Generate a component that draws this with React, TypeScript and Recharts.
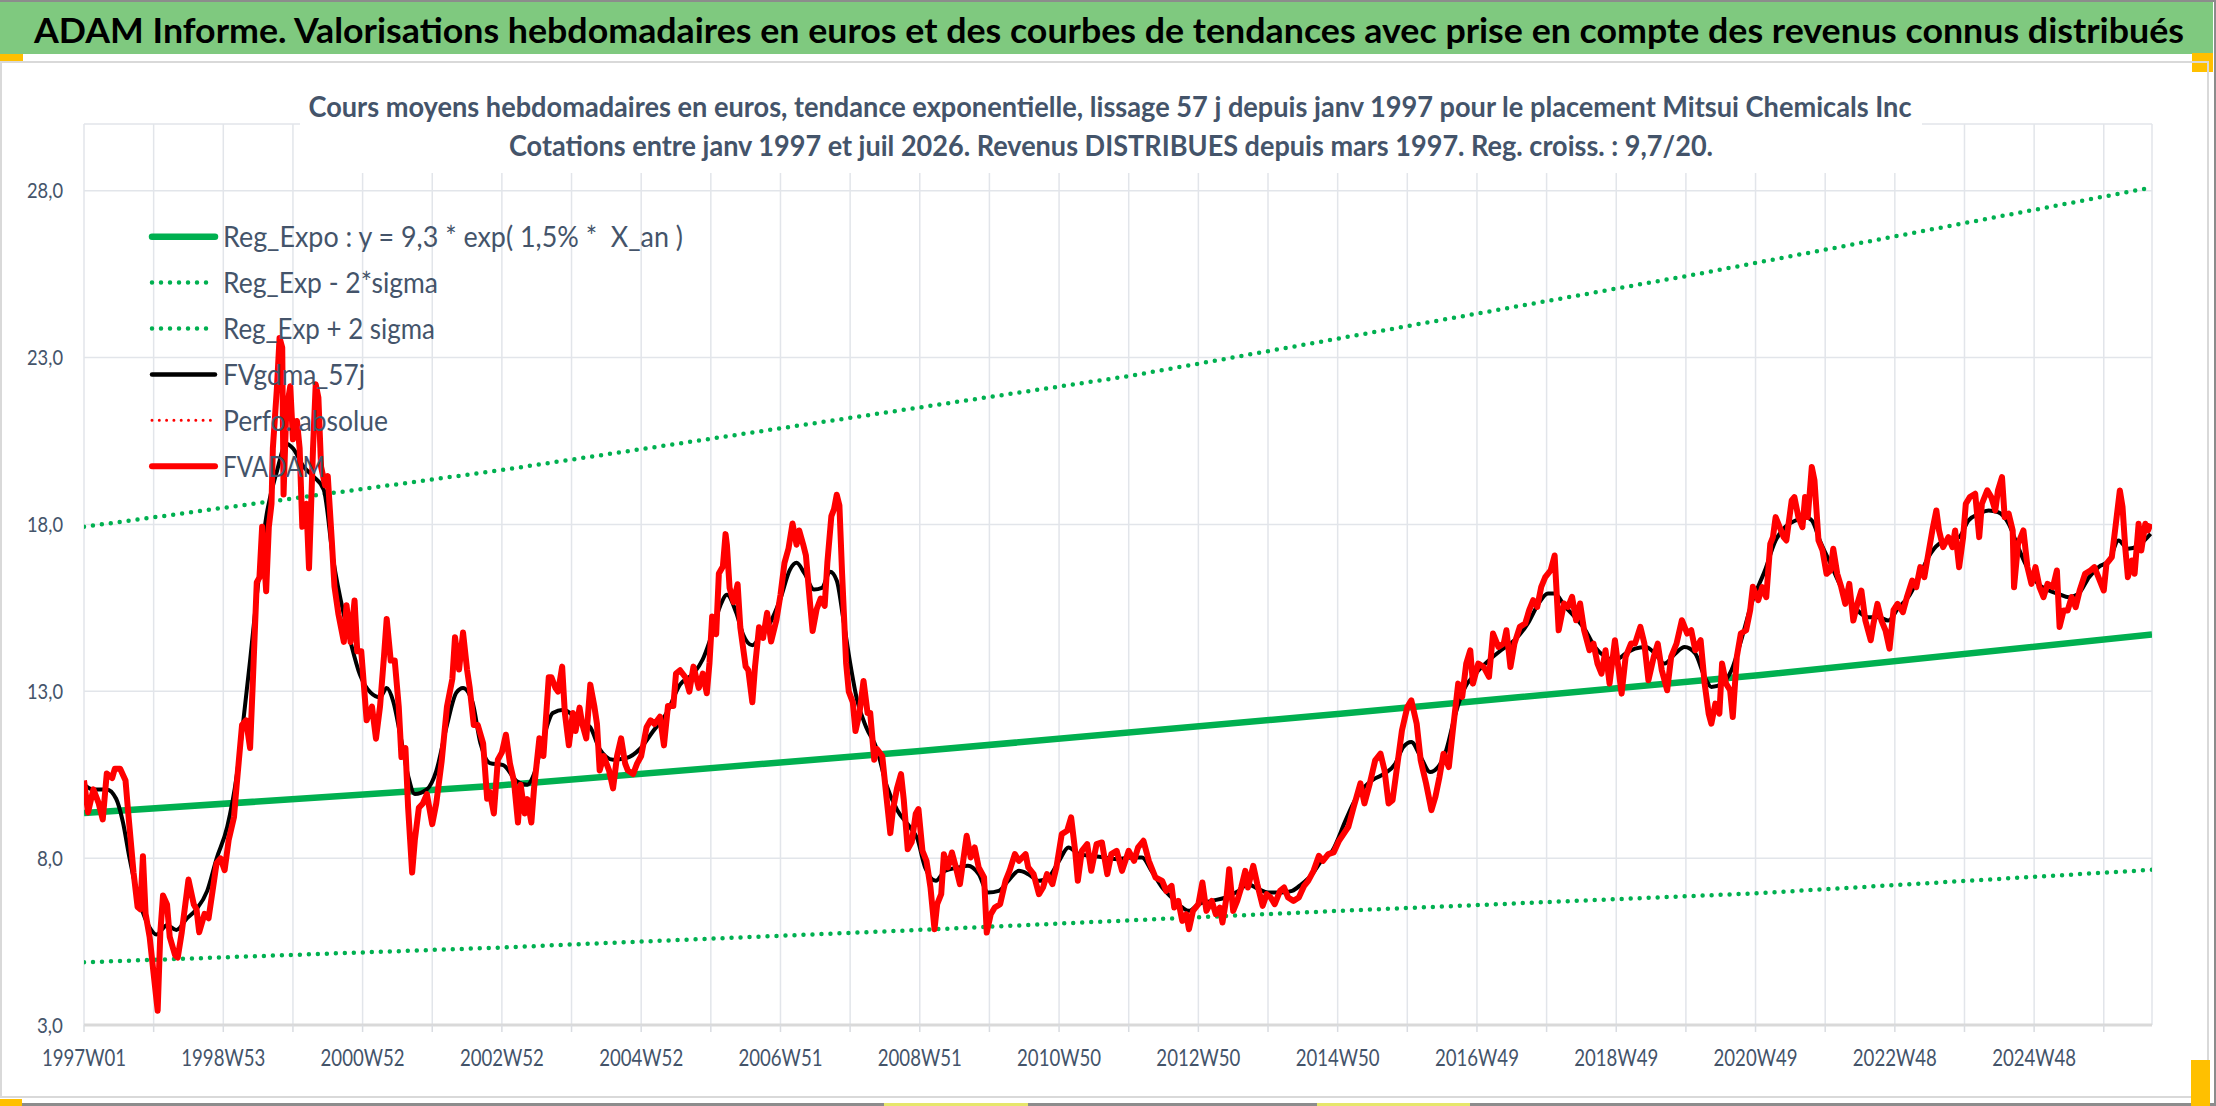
import React from "react";
import { LineChart, Line, XAxis, YAxis, CartesianGrid, Legend } from "recharts";

const W = 2216;
const H = 1106;
const FONT = "Lato, 'Open Sans', 'DejaVu Sans', sans-serif";
const TEXT_COLOR = "#44546A";

const titleText =
  "ADAM Informe. Valorisations hebdomadaires en euros et des courbes de tendances avec prise en compte des revenus connus distribués";
const subtitleLine1 =
  "Cours moyens hebdomadaires en euros, tendance exponentielle, lissage 57 j depuis janv 1997 pour le placement Mitsui Chemicals Inc";
const subtitleLine2 =
  "Cotations entre janv 1997 et juil 2026. Revenus DISTRIBUES depuis mars 1997. Reg. croiss. : 9,7/20.";

// x axis: week index since 1997W01
const xTickWeeks = [
  0, 52, 104, 156, 208, 260, 312, 364, 416, 468, 520, 572, 624, 676, 728, 780, 832, 884, 936, 988, 1040,
  1092, 1144, 1196, 1248, 1300, 1352, 1404, 1456, 1508,
];
const xTickLabels = [
  "1997W01", "1998W53", "2000W52", "2002W52", "2004W52", "2006W51", "2008W51", "2010W50",
  "2012W50", "2014W50", "2016W49", "2018W49", "2020W49", "2022W48", "2024W48",
];
const yTicks = [3, 8, 13, 18, 23, 28];
const yTickLabels = ["3,0", "8,0", "13,0", "18,0", "23,0", "28,0"];

// Reg_Expo and bands
const regWeek = [0, 310, 622, 938, 1250, 1544];
const regValue = [9.35, 10.18, 11.2, 12.33, 13.48, 14.7];
const lowWeek = [0, 310, 624, 937, 1250, 1544];
const lowValue = [4.88, 5.32, 5.85, 6.42, 6.95, 7.65];
const highWeek = [0, 310, 781, 1204, 1544];
const highValue = [17.93, 19.62, 22.45, 25.5, 28.1];

// FVgdma_57j (black)
const gdmaWeek = [
  0, 7, 17, 24, 29, 34, 42, 49, 54, 62, 69, 77, 84, 92, 99, 107, 114, 119, 124, 129, 136, 144, 151, 156, 164,
  171, 179, 186, 194, 199, 206, 214, 221, 226, 231, 236, 242, 247, 256, 263, 271, 278, 283, 290, 296, 303,
  313, 323, 331, 336, 343, 350, 358, 368, 378, 385, 395, 405, 415, 425, 435, 445, 455, 462, 467, 475, 480,
  487, 492, 499, 505, 512, 520, 527, 532, 538, 545, 551, 557, 562, 567, 572, 577, 584, 592, 599, 607, 617,
  622, 628, 636, 643, 653, 660, 668, 675, 683, 690, 698, 705, 713, 720, 728, 735, 743, 752, 762, 772, 782,
  790, 797, 805, 812, 820, 825, 832, 842, 852, 862, 869, 877, 884, 894, 902, 909, 917, 924, 932, 942, 949,
  956, 964, 971, 979, 985, 991, 998, 1005, 1011, 1017, 1024, 1030, 1039, 1049, 1058, 1068, 1078, 1086, 1093,
  1098, 1106, 1113, 1121, 1128, 1136, 1143, 1151, 1158, 1166, 1173, 1180, 1188, 1195, 1203, 1210, 1215, 1223,
  1230, 1238, 1245, 1255, 1263, 1270, 1278, 1285, 1290, 1296, 1304, 1312, 1322, 1332, 1340, 1347, 1355, 1362,
  1370, 1377, 1385, 1392, 1400, 1407, 1415, 1422, 1429, 1437, 1444, 1452, 1459, 1467, 1474, 1482, 1489, 1497,
  1504, 1512, 1519, 1526, 1534, 1543,
];
const gdmaValue = [
  10.2, 10.06, 10.06, 9.78, 9.09, 8.0, 6.61, 5.92, 5.71, 5.99, 5.85, 6.2, 6.47, 7.02, 7.99, 8.95, 10.47, 12.13,
  13.92, 15.86, 18.21, 19.59, 20.42, 20.28, 19.73, 19.45, 19.04, 16.96, 15.3, 14.48, 13.5, 12.96, 12.82, 13.1,
  12.68, 11.72, 10.47, 9.92, 10.06, 10.61, 11.99, 12.96, 13.1, 12.68, 11.44, 10.85, 10.79, 10.31, 10.2, 10.52,
  11.59, 12.35, 12.45, 12.18, 11.92, 11.27, 10.95, 11.0, 11.27, 11.81, 12.35, 13.2, 13.53, 13.96, 14.49, 15.56,
  15.89, 15.35, 14.71, 14.38, 14.65, 15.03, 15.78, 16.64, 16.85, 16.53, 16.05, 16.1, 16.58, 16.32, 15.14,
  13.85, 12.77, 11.92, 11.27, 10.2, 9.45, 8.91, 8.6, 7.72, 7.32, 7.62, 7.72, 7.77, 7.52, 6.97, 7.02, 7.32,
  7.62, 7.52, 7.32, 7.42, 7.92, 8.32, 8.12, 8.07, 8.02, 7.97, 8.02, 8.02, 7.62, 7.12, 6.82, 6.52, 6.42, 6.62,
  6.72, 6.82, 7.02, 7.22, 7.07, 6.97, 6.97, 7.02, 7.22, 7.52, 7.92, 8.22, 9.14, 9.74, 10.14, 10.39, 10.53,
  10.83, 11.33, 11.48, 11.03, 10.58, 10.73, 11.23, 12.33, 13.03, 13.53, 13.93, 14.23, 14.53, 15.03, 15.63,
  15.93, 15.93, 15.53, 15.23, 14.83, 14.33, 14.03, 13.93, 14.13, 14.28, 14.33, 14.13, 13.83, 14.13, 14.33,
  14.13, 13.43, 13.13, 13.23, 13.63, 14.63, 15.63, 16.62, 17.52, 17.92, 18.12, 18.22, 18.12, 17.52, 16.82,
  16.12, 15.52, 15.22, 15.22, 15.12, 15.52, 15.82, 16.42, 17.02, 17.42, 17.52, 17.62, 18.12, 18.32, 18.42,
  18.37, 18.02, 17.32, 16.62, 16.22, 16.02, 15.92, 15.82, 15.92, 16.42, 16.72, 16.92, 17.52, 17.27, 17.37,
  17.72,
];

// FVADAM (red)
const adamWeek = [
  0, 3, 7, 11, 14, 17, 21, 23, 27, 31, 33, 37, 40, 42, 44, 46, 49, 52, 55, 57, 59, 62, 64, 68, 70, 73, 78, 82,
  84, 86, 90, 93, 96, 99, 102, 105, 108, 112, 114, 118, 121, 124, 126, 129, 131, 133, 136, 138, 140, 141,
  144, 146, 148, 149, 151, 154, 156, 159, 161, 163, 166, 168, 171, 173, 175, 177, 180, 182, 185, 187, 190,
  194, 196, 199, 202, 204, 207, 211, 215, 218, 221, 224, 226, 229, 232, 235, 237, 240, 242, 245, 247, 250,
  253, 256, 260, 263, 267, 271, 275, 277, 280, 283, 286, 288, 291, 294, 298, 301,
  303, 306, 309, 312, 315, 318, 321, 324, 326, 329, 331, 334, 336, 338, 340, 343, 347, 349, 352, 354, 357,
  359, 362, 365, 367, 370, 372, 375, 378, 381, 383, 385, 388, 392, 395, 398, 401, 404, 406, 410, 413, 416,
  420, 423, 426, 430, 433, 436, 440, 442, 445, 449, 452, 455, 459, 462, 465, 467, 469, 472, 474, 477, 479,
  480, 482, 485, 488, 490, 494, 496, 499, 501, 504, 507, 510, 513, 517, 520, 523, 526, 529, 532, 534, 537,
  539, 542, 544, 547, 550, 553, 555, 558, 560, 562, 564, 566, 569, 571, 574, 576, 579, 582, 585, 587, 590,
  592, 596, 599, 602, 604, 607, 610, 612, 615, 618,
  621, 623, 626, 629, 632, 635, 637, 640, 642, 645, 648, 651, 654, 659, 662, 665, 668, 672, 674, 677, 680,
  684, 688, 691, 695, 698, 703, 705, 709, 713, 716, 719, 723, 726, 730, 734, 737, 740, 742, 745, 749, 752,
  756, 760, 764, 767, 771, 775, 780, 784, 787, 791, 795, 800, 805, 808, 812, 814, 817, 820, 823, 825, 828,
  832, 835, 838, 842, 845, 848, 850, 853, 855, 858, 861, 864, 867, 869, 873, 876, 880, 883, 886, 889, 893,
  896, 899, 903, 907, 911, 914, 918, 922, 925, 929, 933, 937,
  944, 948, 953, 956, 960, 964, 968, 971, 974, 977, 980, 984, 988, 991, 995, 998, 1002, 1006, 1009, 1012,
  1015, 1019, 1022, 1026, 1029, 1032, 1035, 1037, 1041, 1045, 1049, 1052, 1056, 1060, 1062, 1065, 1068, 1072,
  1076, 1079, 1082, 1085, 1088, 1091, 1095, 1098, 1101, 1105, 1108, 1111, 1114, 1117, 1120, 1124, 1127, 1130,
  1133, 1136, 1139, 1143, 1148, 1151, 1155, 1158, 1162, 1165, 1168, 1172, 1175, 1178, 1182, 1185, 1189, 1193,
  1197, 1200, 1203, 1207, 1210, 1213, 1215, 1218, 1221, 1223, 1226, 1229, 1231, 1234, 1237, 1241, 1244, 1246,
  1250,
  1253, 1256, 1259, 1261, 1263, 1266, 1269, 1271, 1275, 1277, 1280, 1283, 1285, 1287, 1290, 1292, 1295, 1298,
  1301, 1304, 1306, 1309, 1312, 1315, 1318, 1321, 1324, 1327, 1330, 1334, 1336, 1339, 1342, 1345, 1348, 1351,
  1354, 1358, 1361, 1365, 1368, 1371, 1374, 1377, 1380, 1383, 1385, 1388, 1392, 1395, 1397, 1400, 1403, 1405,
  1408, 1412, 1415, 1417, 1421, 1424, 1427, 1429, 1432, 1434, 1437, 1440, 1441, 1444, 1448, 1451, 1454, 1457,
  1460, 1463, 1466, 1470, 1473, 1475, 1478, 1481, 1484, 1487, 1490, 1494, 1498, 1501, 1504, 1508, 1510, 1514,
  1517, 1520, 1522, 1524, 1526, 1529, 1531, 1534, 1536, 1539, 1541, 1543,
];
const adamValue = [
  10.33, 9.37, 10.06, 9.64, 9.16, 10.54, 10.4, 10.68, 10.68, 10.33, 9.37, 7.57, 6.54, 6.47, 8.06, 6.33, 5.64,
  4.53, 3.43, 5.78, 6.88, 6.61, 5.64, 5.09, 5.02, 5.78, 7.36, 6.61, 6.47, 5.78, 6.33, 6.2, 7.02, 7.85, 7.99,
  7.64, 8.54, 9.23, 10.2, 11.99, 12.13, 11.3, 13.23, 16.27, 16.41, 17.93, 16.0, 17.93, 18.62, 20.28, 22.07,
  23.59, 23.3, 18.9, 21.38, 22.14, 20.55, 21.1, 20.28, 17.93, 18.62, 16.69, 20.28, 22.2, 21.8, 19.73, 19.17,
  19.45, 17.52, 16.14, 15.3, 14.48, 15.58, 14.48, 15.72, 14.2, 14.2, 12.13, 12.54, 11.58, 12.54, 14.06, 15.17,
  13.92, 13.92, 12.54, 11.03, 11.3, 9.51, 7.57, 8.54, 9.51, 9.64, 9.92, 9.02, 9.64, 10.89, 12.54, 13.37, 14.62,
  13.65, 14.76, 13.65, 13.1, 11.99, 11.99, 11.44, 9.78,
  9.98, 9.34, 10.95, 11.17, 11.7, 10.84, 10.31, 9.07, 10.2, 9.34, 9.77, 9.07, 10.09, 10.84, 11.59, 11.06,
  13.42, 13.42, 13.1, 12.99, 13.74, 12.35, 11.38, 12.35, 11.81, 12.51, 12.02, 11.59, 13.2, 12.56, 12.02, 10.63,
  11.06, 10.63, 10.09, 11.06, 11.59, 10.84, 10.63, 10.52, 10.84, 11.06, 11.92, 12.13, 12.02, 12.24, 11.38,
  12.56, 12.56, 13.53, 13.63, 13.42, 12.99, 13.74, 13.1, 13.53, 12.94, 13.85, 15.24, 14.71, 16.53, 16.74,
  17.71, 17.39, 16.1, 15.67, 16.21, 14.92, 13.74, 13.63, 12.67, 13.74, 14.92, 14.6, 15.35, 14.49, 15.14,
  15.89, 16.85, 17.28, 18.03, 17.39, 17.82, 17.39, 17.07, 15.67, 14.81, 15.46, 15.78, 15.56, 16.85, 18.25,
  18.46, 18.89, 18.57, 16.53, 13.85, 12.99, 12.67, 11.81, 12.35, 13.31, 12.35, 12.35, 10.95, 11.27, 11.06,
  9.88, 8.75, 9.45, 10.09, 10.52, 9.77, 8.27, 8.48,
  9.33, 9.47, 8.22, 7.92, 7.12, 5.87, 6.62, 6.92, 8.12, 7.72, 8.17, 7.72, 7.22, 8.67, 8.02, 8.32, 7.72, 7.42,
  5.77, 6.32, 6.52, 6.62, 7.32, 7.62, 8.12, 7.92, 8.12, 7.72, 7.52, 6.92, 7.12, 7.52, 7.22, 7.72, 8.72, 8.82,
  9.22, 8.22, 7.32, 8.22, 8.42, 7.62, 8.42, 8.47, 7.52, 8.12, 8.22, 7.62, 8.22, 7.92, 8.32, 8.52, 7.92, 7.42,
  7.32, 7.02, 7.17, 6.52, 6.72, 6.12, 6.32, 5.87, 6.42, 6.62, 7.27, 6.42, 6.72, 6.32, 6.52, 6.07, 6.82, 7.67,
  6.42, 6.72, 7.12, 7.62, 7.12, 7.77, 7.22, 6.57, 6.92, 6.82, 6.62, 7.02, 7.12, 6.82, 6.72, 6.82, 7.17, 7.32,
  7.62, 8.07, 7.92, 8.12, 8.17, 8.52,
  8.94, 9.54, 10.24, 9.64, 10.24, 10.93, 11.13, 10.63, 9.64, 9.74, 10.63, 11.83, 12.53, 12.73, 12.03, 10.93,
  10.24, 9.44, 9.84, 10.43, 11.13, 10.73, 11.83, 13.23, 12.83, 13.83, 14.23, 13.23, 13.83, 13.73, 13.43,
  14.73, 14.33, 14.43, 14.83, 13.73, 14.43, 14.93, 15.03, 15.43, 15.73, 15.53, 16.13, 16.42, 16.62, 17.07,
  14.83, 15.63, 15.53, 15.83, 15.13, 15.63, 14.83, 14.23, 14.43, 13.83, 13.53, 14.23, 13.23, 14.53, 12.93,
  14.03, 14.43, 14.43, 14.93, 14.43, 13.33, 14.03, 14.43, 13.63, 13.03, 14.03, 14.43, 15.13, 14.73, 14.83,
  14.23, 14.53, 13.23, 12.33, 12.03, 12.63, 12.33, 13.83, 13.23, 13.03, 12.23, 14.03, 14.73, 14.83, 15.43,
  16.13, 15.73,
  16.12, 15.82, 17.42, 17.62, 18.22, 17.92, 17.62, 17.52, 18.72, 18.82, 18.22, 17.92, 18.82, 18.22, 19.72,
  19.32, 17.52, 17.22, 16.52, 16.62, 17.27, 16.52, 16.12, 15.62, 16.22, 15.12, 15.62, 16.02, 15.12, 14.53,
  15.02, 15.62, 15.12, 14.83, 14.28, 15.43, 15.62, 15.37, 15.82, 16.32, 16.12, 16.72, 16.42, 17.12, 17.82,
  18.42, 17.82, 17.32, 17.62, 17.32, 17.82, 16.72, 17.62, 18.62, 18.82, 18.92, 17.62, 18.62, 19.02, 18.82,
  18.42, 19.02, 19.42, 18.22, 18.32, 17.82, 16.12, 17.42, 17.82, 16.72, 16.22, 16.72, 16.12, 15.82, 16.22,
  16.12, 16.62, 14.93, 15.42, 15.42, 15.82, 15.52, 16.02, 16.52, 16.62, 16.72, 16.42, 16.02, 16.82, 17.02,
  18.02, 19.02, 18.52, 17.32, 16.42, 16.92, 16.52, 18.02, 17.22, 18.02, 17.82, 18.02,
];

const toPoints = (weeks: number[], values: number[]) => weeks.map((w, i) => ({ w, v: values[i] }));

const regData = toPoints(regWeek, regValue);
const lowData = toPoints(lowWeek, lowValue);
const highData = toPoints(highWeek, highValue);
const gdmaData = toPoints(gdmaWeek, gdmaValue);
const adamData = toPoints(adamWeek, adamValue);

const legendNames = [
  "Reg_Expo : y = 9,3 * exp( 1,5% *  X_an )",
  "Reg_Exp - 2*sigma",
  "Reg_Exp + 2 sigma",
  "FVgdma_57j",
  "Perfo. absolue",
  "FVADAM",
];
const legendStyles = [
  { color: "#00B050", width: 6.5, dash: undefined, textLen: 460 },
  { color: "#00B050", width: 4.5, dash: "0 9", textLen: 215 },
  { color: "#00B050", width: 4.5, dash: "0 9", textLen: 212 },
  { color: "#000000", width: 4.5, dash: undefined, textLen: 142 },
  { color: "#FF0000", width: 3, dash: "0 7.3", textLen: 165 },
  { color: "#FF0000", width: 6, dash: undefined, textLen: 102 },
];

const LEG_LEFT = 140;
const LEG_TOP = 200;

const renderLegend = () => (
  <svg width={600} height={300} style={{ overflow: "visible" }}>
    {legendNames.map((name, i) => {
      const st = legendStyles[i];
      const cy = 236.7 + 45.9 * i - LEG_TOP;
      return (
        <g key={name}>
          <line
            x1={152 - LEG_LEFT}
            x2={215 - LEG_LEFT}
            y1={cy}
            y2={cy}
            stroke={st.color}
            strokeWidth={st.width}
            strokeDasharray={st.dash}
            strokeLinecap="round"
          />
          <text
            x={223 - LEG_LEFT}
            y={cy + 10.4}
            fontFamily={FONT}
            fontSize={29}
            fill={TEXT_COLOR}
            textLength={st.textLen}
            lengthAdjust="spacingAndGlyphs"
            style={{ whiteSpace: "pre" }}
          >
            {name}
          </text>
        </g>
      );
    })}
  </svg>
);

const XTick = (props: any) => {
  const { x, y, payload } = props;
  const idx = xTickWeeks.indexOf(payload.value);
  if (idx < 0 || idx % 2 !== 0) return <g />;
  return (
    <text
      x={x}
      y={y + 26}
      textAnchor="middle"
      fontFamily={FONT}
      fontSize={23.5}
      fill={TEXT_COLOR}
      textLength={84}
      lengthAdjust="spacingAndGlyphs"
    >
      {xTickLabels[idx / 2]}
    </text>
  );
};

const YTick = (props: any) => {
  const { x, y, payload } = props;
  const idx = yTicks.indexOf(payload.value);
  if (idx < 0) return <g />;
  const label = yTickLabels[idx];
  return (
    <text
      x={x}
      y={y + 7.5}
      textAnchor="end"
      fontFamily={FONT}
      fontSize={21}
      fill={TEXT_COLOR}
      textLength={label.length === 4 ? 36 : 26}
      lengthAdjust="spacingAndGlyphs"
    >
      {label}
    </text>
  );
};

export default function App() {
  return (
    <div style={{ position: "absolute", left: 0, top: 0, width: W, height: H, background: "#fff", overflow: "hidden" }}>
      {/* frame & title */}
      <svg width={W} height={H} style={{ position: "absolute", left: 0, top: 0 }}>
        <rect x={0} y={0} width={W} height={2} fill="#8C8C8C" />
        <rect x={0} y={2} width={2213} height={52} fill="#7FC97F" />
        <rect x={0} y={54} width={23} height={7} fill="#FFC000" />
        <rect x={2192} y={53} width={21} height={19} fill="#FFC000" />
        <rect x={1} y={62} width={2207} height={1035} fill="none" stroke="#D9D9D9" strokeWidth={2} />
        <rect x={2214} y={0} width={2} height={H} fill="#8C8C8C" />
        <rect x={0} y={1103} width={W} height={3} fill="#8C8C8C" />
        <rect x={0} y={1099} width={22} height={7} fill="#FFC000" />
        <rect x={884} y={1103} width={144} height={3} fill="#E6E66A" />
        <rect x={1317} y={1103} width={153} height={3} fill="#E6E66A" />
        <rect x={2191} y={1060} width={19} height={46} fill="#FFC000" />
        <text
          x={1109}
          y={42.5}
          textAnchor="middle"
          fontFamily={FONT}
          fontWeight={700}
          fontSize={35}
          fill="#000"
          textLength={2150}
          lengthAdjust="spacingAndGlyphs"
        >
          {titleText}
        </text>
      </svg>

      <div style={{ position: "absolute", left: 0, top: 0 }}>
        <LineChart width={W} height={H} margin={{ top: 124, right: 64, bottom: 41, left: 0 }}>
          <CartesianGrid stroke="#E2E5EA" strokeWidth={1.5} />
          <XAxis
            type="number"
            dataKey="w"
            domain={[0, 1544]}
            ticks={xTickWeeks}
            interval={0}
            height={40}
            tickSize={7}
            tickMargin={8}
            axisLine={{ stroke: "#D9D9D9", strokeWidth: 3 }}
            tickLine={{ stroke: "#D9DCE1", strokeWidth: 1.5 }}
            tick={<XTick />}
            allowDataOverflow
          />
          <YAxis
            type="number"
            domain={[3, 30]}
            ticks={yTicks}
            interval={0}
            width={84}
            tickSize={0}
            tickMargin={21}
            axisLine={false}
            tickLine={false}
            tick={<YTick />}
            allowDataOverflow
          />
          <Legend
            layout="vertical"
            align="center"
            verticalAlign="middle"
            content={renderLegend}
            wrapperStyle={{ left: LEG_LEFT, top: LEG_TOP, width: 600, height: 300 }}
          />
          <Line
            data={regData}
            dataKey="v"
            name={legendNames[0]}
            stroke="#00B050"
            strokeWidth={6.5}
            dot={false}
            activeDot={false}
            type="linear"
            isAnimationActive={false}
          />
          <Line
            data={lowData}
            dataKey="v"
            name={legendNames[1]}
            stroke="#00B050"
            strokeWidth={4.5}
            strokeDasharray="0 9"
            strokeLinecap="round"
            dot={false}
            activeDot={false}
            type="linear"
            isAnimationActive={false}
          />
          <Line
            data={highData}
            dataKey="v"
            name={legendNames[2]}
            stroke="#00B050"
            strokeWidth={4.5}
            strokeDasharray="0 9"
            strokeLinecap="round"
            dot={false}
            activeDot={false}
            type="linear"
            isAnimationActive={false}
          />
          <Line
            data={gdmaData}
            dataKey="v"
            name={legendNames[3]}
            stroke="#000000"
            strokeWidth={4}
            dot={false}
            activeDot={false}
            type="monotone"
            isAnimationActive={false}
          />
          <Line
            data={adamData}
            dataKey="v"
            name={legendNames[5]}
            stroke="#FF0000"
            strokeWidth={6}
            strokeLinejoin="round"
            dot={false}
            activeDot={false}
            type="linear"
            isAnimationActive={false}
          />
        </LineChart>
      </div>

      {/* subtitle box over the plot */}
      <svg width={W} height={H} style={{ position: "absolute", left: 0, top: 0, pointerEvents: "none" }}>
        <rect x={300} y={86} width={1622} height={87} fill="#fff" />
        <text
          x={1110}
          y={117}
          textAnchor="middle"
          fontFamily={FONT}
          fontWeight={700}
          fontSize={28.5}
          fill={TEXT_COLOR}
          textLength={1603}
          lengthAdjust="spacingAndGlyphs"
        >
          {subtitleLine1}
        </text>
        <text
          x={1111}
          y={155.5}
          textAnchor="middle"
          fontFamily={FONT}
          fontWeight={700}
          fontSize={28.5}
          fill={TEXT_COLOR}
          textLength={1204}
          lengthAdjust="spacingAndGlyphs"
        >
          {subtitleLine2}
        </text>
      </svg>
    </div>
  );
}
